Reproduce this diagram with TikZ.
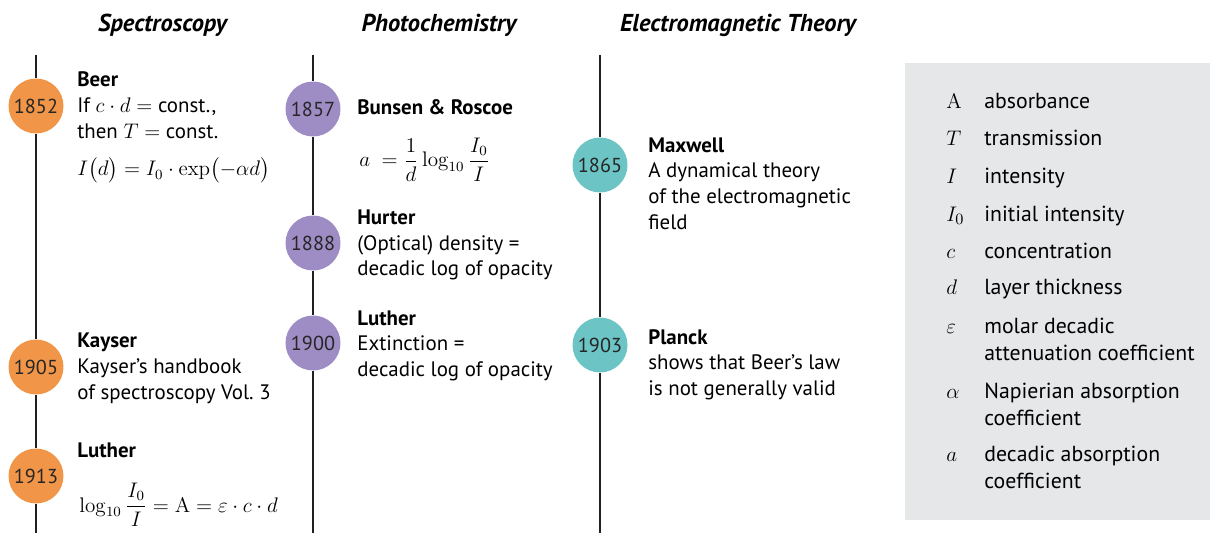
\documentclass[tikz,border=0pt]{standalone}
\usepackage{amsmath,amssymb}
\usepackage[no-math]{fontspec}
\setmainfont{PT Sans}
\usepackage{xcolor}
\usetikzlibrary{positioning}
\definecolor{spcorange}{HTML}{F19648}
\definecolor{phpurple}{HTML}{9E8CC4}
\definecolor{emteal}{HTML}{6CC4C4}
\definecolor{legendgray}{HTML}{E6E7E8}
\definecolor{linegray}{HTML}{231F20}

\begin{document}
\begin{tikzpicture}[x=0.02cm,y=-0.02cm,font=\fontsize{11.9}{14.6}\selectfont,
 year/.style={circle,inner sep=0pt,minimum size=1.1cm,text=black!85,font=\fontsize{11.5}{13}\selectfont},
 spec/.style={year,fill=spcorange},
 photo/.style={year,fill=phpurple},
 field/.style={year,fill=emteal},
 entry/.style={anchor=base west,align=left,inner sep=0pt},
 formula/.style={anchor=base west,inner sep=0pt,font=\fontsize{12}{14}\selectfont},
 head/.style={anchor=base,inner sep=0pt,font=\fontsize{13.9}{16}\selectfont\bfseries\itshape},
 tline/.style={line width=1.1pt,draw=linegray}]
\useasboundingbox (0,0) rectangle (1210,533);
% column headings
\node[head] (hspec) at (162.5,31.7) {Spectroscopy};
\node[head] (hphoto) at (439,31.7) {Photochemistry};
\node[head] (hfield) at (738,31.7) {Electromagnetic Theory};
% spectroscopy (base = last line of each entry)
\coordinate (spectop) at (36,55);
\coordinate (specbot) at (36,533);
\node[spec] (y1852) at (36,106) {1852};
\node[spec] (y1905) at (36,367) {1905};
\node[spec] (y1913) at (36,476) {1913};
\draw[tline] (spectop)--(y1852)--(y1905)--(y1913)--(specbot);
\node[entry,text depth=0pt] (beer) at (77,138.3) {\textbf{Beer}\\If $c\cdot d=$ const.,\\then $T=$ const.};
\node[formula] (beerf) at (77,176) {$I\bigl(d\bigr)=I_0\cdot\exp\bigl(-\alpha d\bigr)$};
\node[entry] (kayser) at (77,399.3) {\textbf{Kayser}\\Kayser’s handbook\\of spectroscopy Vol.~3};
\node[entry] (luther1) at (77,457.3) {\textbf{Luther}};
\node[formula] (luther1f) at (79,512) {$\log_{10}\dfrac{I_0}{I}=\mathrm{A}=\varepsilon\cdot c\cdot d$};
% photochemistry
\coordinate (phototop) at (313,55);
\coordinate (photobot) at (313,533);
\node[photo] (y1857) at (313,109) {1857};
\node[photo] (y1888) at (313,243) {1888};
\node[photo] (y1900) at (313,343) {1900};
\draw[tline] (phototop)--(y1857)--(y1888)--(y1900)--(photobot);
\node[entry] (bunsen) at (357,114.3) {\textbf{Bunsen \& Roscoe}};
\node[formula] (bunsenf) at (359,167) {$a\ =\dfrac{1}{d}\log_{10}\dfrac{I_0}{I}$};
\node[entry] (hurter) at (357,276) {\textbf{Hurter}\\(Optical) density =\\decadic log of opacity};
\node[entry] (luther2) at (357,376.5) {\textbf{Luther}\\Extinction =\\decadic log of opacity};
% electromagnetic theory
\coordinate (fieldtop) at (600,55);
\coordinate (fieldbot) at (600,533);
\node[field] (y1865) at (600,165) {1865};
\node[field] (y1903) at (600,345) {1903};
\draw[tline] (fieldtop)--(y1865)--(y1903)--(fieldbot);
\node[entry] (maxwell) at (648,229.3) {\textbf{Maxwell}\\A dynamical theory\\of the electromagnetic\\field};
\node[entry] (planck) at (648,395.5) {\textbf{Planck}\\shows that Beer’s law\\is not generally valid};
% legend
\fill[legendgray] (905,63) rectangle (1210,520);
\foreach \sym/\txt/\ys/\yt [count=\i] in {
  {$\mathrm{A}$}/{absorbance}/108.3/108.3,
  {$T$}/{transmission}/146/146,
  {$I$}/{intensity}/183.3/183.3,
  {$I_0$}/{initial intensity}/221.7/221.7,
  {$c$}/{concentration}/258.3/258.3,
  {$d$}/{layer thickness}/295/295,
  {$\varepsilon$}/{molar decadic\\attenuation coefficient}/333.3/360,
  {$\alpha$}/{Napierian absorption\\coefficient}/398.3/425,
  {$a$}/{decadic absorption\\coefficient}/461.7/488.4}
{
 \node[entry,font=\fontsize{12.4}{14}\selectfont] (sym\i) at (946,\ys) {\sym};
 \node[entry,font=\fontsize{12.4}{15.2}\selectfont] (txt\i) at (984,\yt) {\txt};
}
\end{tikzpicture}
\end{document}
